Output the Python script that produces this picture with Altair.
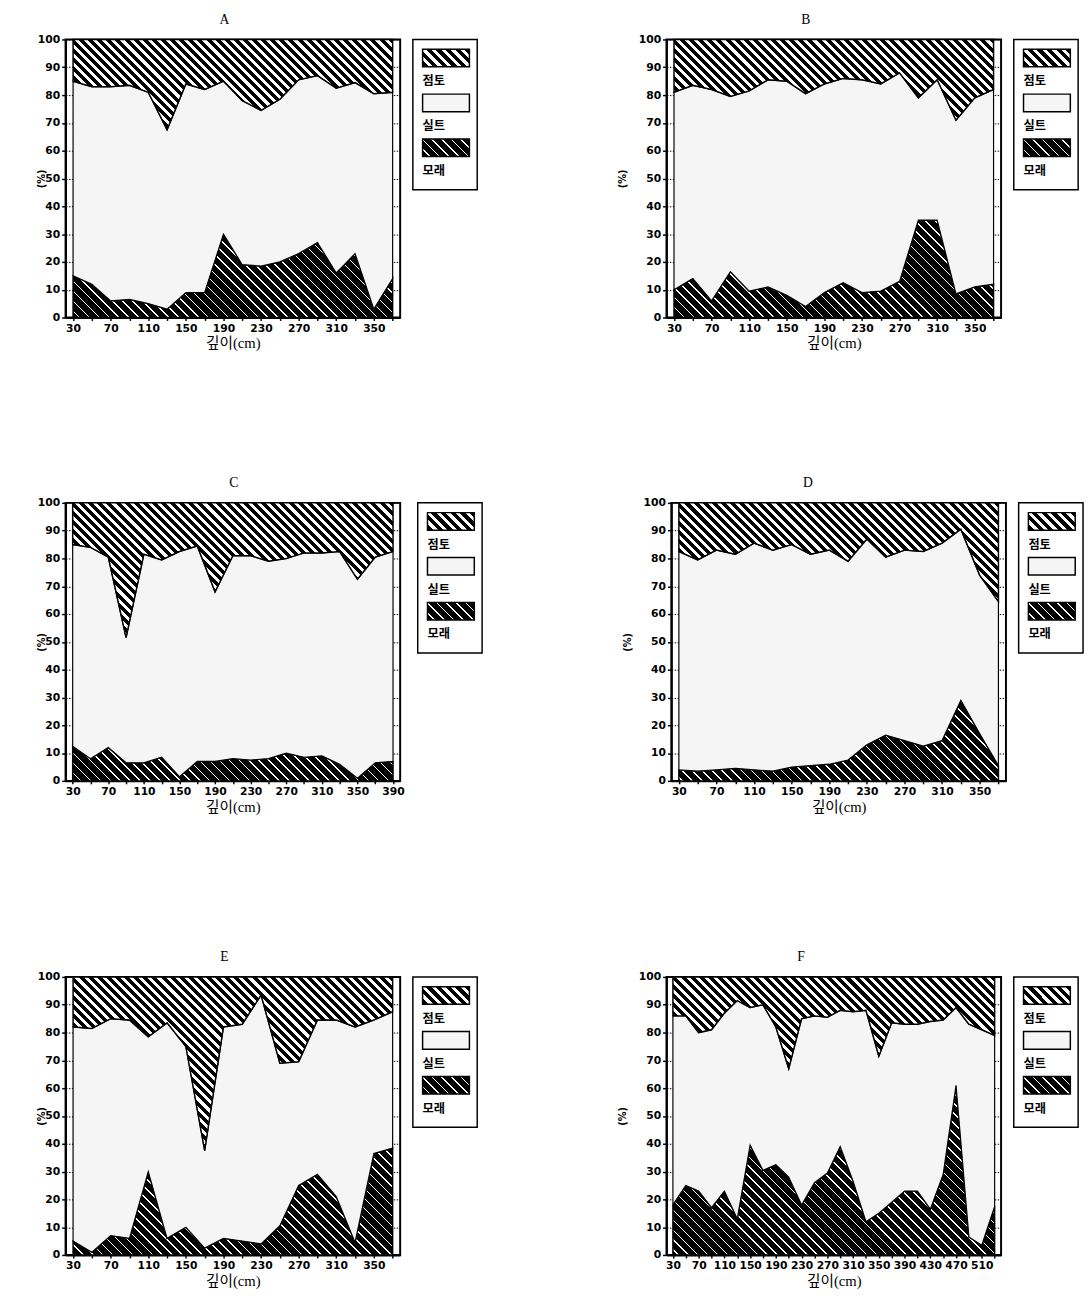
import math
import altair as alt
import pandas as pd

# ---------------- data ----------------
depth_A = [30, 50, 70, 90, 110, 130, 150, 170, 190, 210, 230, 250, 270, 290, 310, 330, 350, 370]
sand_A = [15, 12, 6, 6.5, 5, 3, 9, 9, 30, 19, 18.5, 20, 23, 27, 16, 23, 3, 14]
silt_A = [70, 71, 77, 77, 76, 64.5, 75, 73, 55, 59, 56, 58.5, 62.5, 60, 66.5, 61.5, 77.5, 67]
clay_A = [15, 17, 17, 16.5, 19, 32.5, 16, 18, 15, 22, 25.5, 21.5, 14.5, 13, 17.5, 15.5, 19.5, 19]

depth_B = [30, 50, 70, 90, 110, 130, 150, 170, 190, 210, 230, 250, 270, 290, 310, 330, 350, 370]
sand_B = [10, 14, 6, 16.5, 9.5, 11, 8, 4, 9, 12.5, 9, 9.5, 13, 35, 35, 8.5, 11, 12]
silt_B = [71, 69.5, 76, 63, 72, 74.5, 77, 76.5, 75, 73.5, 76.5, 74.5, 75, 44, 50.5, 62.5, 68, 70]
clay_B = [19, 16.5, 18, 20.5, 18.5, 14.5, 15, 19.5, 16, 14, 14.5, 16, 12, 21, 14.5, 29, 21, 18]

depth_C = [30, 50, 70, 90, 110, 130, 150, 170, 190, 210, 230, 250, 270, 290, 310, 330, 350, 370, 390]
sand_C = [12.5, 8, 12, 6.5, 6.5, 8.5, 1.5, 7, 7, 8, 7.5, 8, 10, 8.5, 9, 6, 1, 6.5, 7]
silt_C = [72.5, 76, 68.5, 45, 75, 71, 81, 77.5, 61, 73, 73.5, 71, 70, 73.5, 73, 76.5, 71.5, 74, 75.5]
clay_C = [15, 16, 19.5, 48.5, 18.5, 20.5, 17.5, 15.5, 32, 19, 19, 21, 20, 18, 18, 17.5, 27.5, 19.5, 17.5]

depth_D = [30, 50, 70, 90, 110, 130, 150, 170, 190, 210, 230, 250, 270, 290, 310, 330, 350, 370]
sand_D = [4, 3.5, 4, 4.5, 4, 3.5, 5, 5.5, 6, 7.5, 13, 16.5, 14.5, 12.5, 14.5, 29, 17, 5.5]
silt_D = [78.5, 76, 79, 77, 81.5, 79.5, 80, 76, 77, 71.5, 74, 64, 68.5, 70, 71, 61.5, 57, 59]
clay_D = [17.5, 20.5, 17, 18.5, 14.5, 17, 15, 18.5, 17, 21, 13, 19.5, 17, 17.5, 14.5, 9.5, 26, 35.5]

depth_E = [30, 50, 70, 90, 110, 130, 150, 170, 190, 210, 230, 250, 270, 290, 310, 330, 350, 370]
sand_E = [5, 1, 7, 6, 30, 6, 10, 2.5, 6, 5, 4, 10.5, 25, 29, 21, 4.5, 36.5, 38.5]
silt_E = [77, 80.5, 78, 78.5, 48.5, 77.5, 65, 35, 76, 78, 89.5, 58.5, 44.5, 55.5, 63.5, 77.5, 48, 49]
clay_E = [18, 18.5, 15, 15.5, 21.5, 16.5, 25, 62.5, 18, 17, 6.5, 31, 30.5, 15.5, 15.5, 18, 15.5, 12.5]

depth_F = [30, 50, 70, 90, 110, 130, 150, 170, 190, 210, 230, 250, 270, 290, 310, 330, 350,
           370, 390, 410, 430, 450, 470, 490, 510, 530]
sand_F = [18, 25, 23, 17, 23, 13, 39.5, 30.5, 32.5, 28, 18, 26, 29.5, 39, 26.5, 12, 15,
          19, 23, 23, 16.5, 29, 61, 6.5, 3.5, 17.5]
silt_F = [68, 61, 57, 64, 64, 78.5, 49.5, 59.5, 49.5, 39, 67, 60, 56, 49, 61, 76, 56.5,
          64.5, 60, 60, 67.5, 55.5, 28, 76.5, 77.5, 61.5]
clay_F = [14, 14, 20, 19, 13, 8.5, 11, 10, 18, 33, 15, 14, 14.5, 12, 12.5, 12, 28.5,
          16.5, 17, 17, 16, 15.5, 11, 17, 19, 21]

ticks_370 = [30, 50, 70, 90, 110, 130, 150, 170, 190, 210, 230, 250, 270, 290, 310, 330, 350, 370]
ticks_390 = ticks_370 + [390]
ticks_530 = ticks_370 + [390, 410, 430, 450, 470, 490, 510, 530]
y_ticks = [0, 10, 20, 30, 40, 50, 60, 70, 80, 90, 100]

legend_labels = ["점토", "실트", "모래"]
legend_order = [0, 1, 2]

# ---------------- styling helpers ----------------
W, H = 343, 285
LABEL_FONT = "DejaVu Sans"
SERIF = "Liberation Serif, Noto Sans CJK KR"
KR = "Noto Sans CJK KR"
SILT_FILL = "#f5f5f5"


def hatch(w, h, period, black_frac):
    """Linear gradient drawing 45-degree '\\' stripes on a w x h px bounding box."""
    L = (w + h) / math.sqrt(2)
    stops = []
    i = 0
    while i * period < L:
        a = i * period / L
        b = min((i * period + period * black_frac) / L, 1.0)
        c = min((i + 1) * period / L, 1.0)
        stops += [
            {"offset": round(a, 5), "color": "black"},
            {"offset": round(b, 5), "color": "black"},
            {"offset": round(b, 5), "color": "white"},
            {"offset": round(c, 5), "color": "white"},
        ]
        i += 1
    k = (w + h) / (w * w + h * h)
    return {
        "gradient": "linear",
        "stops": stops,
        "x1": 1,
        "y1": 0,
        "x2": round(1 - k * w, 5),
        "y2": round(k * h, 5),
    }


def panel(depths, sand, silt, clay, xdom, ticks, title_x):
    df = pd.DataFrame({"depth": depths, "sand": sand, "silt": silt, "clay": clay})
    pxu = W / (xdom[1] - xdom[0])
    w = (max(depths) - min(depths)) * pxu
    tops = [a + b for a, b in zip(sand, silt)]
    h_clay = H * (100 - min(tops)) / 100
    h_sand = H * max(sand) / 100

    xaxis = alt.Axis(
        values=ticks,
        labelExpr="(datum.value - 30) % 40 == 0 ? datum.label : ''",
        title="깊이(cm)",
        titleFont=SERIF,
        titleFontSize=15,
        titleFontWeight="normal",
        titleColor="black",
        titlePadding=3,
        labelFont=LABEL_FONT,
        labelFontSize=11,
        labelFontWeight="bold",
        labelColor="black",
        labelOverlap=False,
        labelFlush=False,
        labelPadding=2,
        tickSize=3,
        tickColor="black",
        tickWidth=1.5,
        domainColor="black",
        domainWidth=2,
        grid=False,
    )
    yaxis = alt.Axis(
        values=y_ticks,
        title="(%)",
        titleFont=LABEL_FONT,
        titleFontSize=10,
        titleFontWeight="bold",
        titleColor="black",
        titleX=title_x,
        labelFont=LABEL_FONT,
        labelFontSize=11,
        labelFontWeight="bold",
        labelColor="black",
        labelPadding=2,
        tickSize=4,
        tickColor="black",
        tickWidth=1.5,
        domainColor="black",
        domainWidth=2,
        grid=True,
        gridColor="black",
        gridDash=[1.5, 1.5],
        gridWidth=1,
        gridOpacity=1,
    )
    xs = alt.Scale(domain=xdom, nice=False, zero=False)
    ys = alt.Scale(domain=[0, 100], nice=False)
    x = alt.X("depth:Q", scale=xs, axis=xaxis)

    base = alt.Chart(df).transform_calculate(
        b0="0",
        b1="datum.sand",
        b2="datum.sand + datum.silt",
        b3="datum.sand + datum.silt + datum.clay",
    )
    sand_l = base.mark_area(
        orient="vertical", fill=hatch(w, h_sand, 7.2, 0.84), stroke="black", strokeWidth=1.5
    ).encode(x=x, y=alt.Y("b0:Q", scale=ys, axis=yaxis), y2="b1:Q")
    silt_l = base.mark_area(
        orient="vertical", fill=SILT_FILL, stroke="black", strokeWidth=1.2
    ).encode(x=x, y=alt.Y("b1:Q", scale=ys, axis=yaxis), y2="b2:Q")
    clay_l = base.mark_area(
        orient="vertical", fill=hatch(w, h_clay, 6.6, 0.55), stroke="black", strokeWidth=1.5
    ).encode(x=x, y=alt.Y("b2:Q", scale=ys, axis=yaxis), y2="b3:Q")
    return alt.layer(sand_l, silt_l, clay_l).properties(
        width=W, height=H, view=alt.ViewBackground(stroke="black", strokeWidth=2)
    )


def legend():
    ldf = pd.DataFrame({"label": legend_labels, "order": legend_order})
    LW, LH = 66, 154
    sw, sh = 48, 18
    base = alt.Chart(ldf).transform_calculate(
        top="10 + 46 * datum.order",
        bot="10 + 46 * datum.order + 18",
        ty="10 + 46 * datum.order + 33",
        x0="10",
        x1="58",
    )
    xs = alt.Scale(domain=[0, LW], nice=False, zero=False)
    ys = alt.Scale(domain=[0, LH], nice=False, zero=False, reverse=True)

    def swatch(lab, fill):
        return base.transform_filter(alt.datum.label == lab).mark_rect(
            fill=fill, stroke="black", strokeWidth=1.5
        ).encode(
            x=alt.X("x0:Q", scale=xs, axis=None),
            x2="x1:Q",
            y=alt.Y("top:Q", scale=ys, axis=None),
            y2="bot:Q",
        )

    txt = base.mark_text(
        align="left", baseline="middle", font=KR, fontSize=12.5, fontWeight="bold", color="black"
    ).encode(
        x=alt.X("x0:Q", scale=xs, axis=None),
        y=alt.Y("ty:Q", scale=ys, axis=None),
        text="label:N",
    )
    return alt.layer(
        swatch("점토", hatch(sw, sh, 7.0, 0.55)),
        swatch("실트", SILT_FILL),
        swatch("모래", hatch(sw, sh, 7.0, 0.84)),
        txt,
    ).properties(width=LW, height=LH, view=alt.ViewBackground(stroke="black", strokeWidth=1.5))


def full_panel(letter, depths, sand, silt, clay, xdom, ticks, title_x, dx):
    return alt.hconcat(
        panel(depths, sand, silt, clay, xdom, ticks, title_x), legend(), spacing=11
    ).properties(
        title=alt.TitleParams(
            letter, font="Liberation Serif", fontSize=14, fontWeight="normal", color="black",
            anchor="middle", dx=dx, offset=6,
        )
    )


row1 = alt.hconcat(
    full_panel("A", depth_A, sand_A, silt_A, clay_A, [22, 378], ticks_370, -20, -33),
    full_panel("B", depth_B, sand_B, silt_B, clay_B, [22, 378], ticks_370, -40, -43),
    spacing=142,
)
row2 = alt.hconcat(
    full_panel("C", depth_C, sand_C, silt_C, clay_C, [22, 398], ticks_390, -20, -26),
    full_panel("D", depth_D, sand_D, silt_D, clay_D, [22, 378], ticks_370, -40, -46),
    spacing=142,
)
row3 = alt.hconcat(
    full_panel("E", depth_E, sand_E, silt_E, clay_E, [22, 378], ticks_370, -20, -33),
    full_panel("F", depth_F, sand_F, silt_F, clay_F, [20, 540], ticks_530, -40, -48),
    spacing=142,
)

chart = alt.vconcat(
    alt.vconcat(row1, row2, spacing=128),
    row3,
    spacing=139,
).properties(
    padding={"left": 28, "top": -11, "right": 0, "bottom": 0},
    background="white",
)

chart.save("out.html", embed_options={"renderer": "svg", "actions": False})
